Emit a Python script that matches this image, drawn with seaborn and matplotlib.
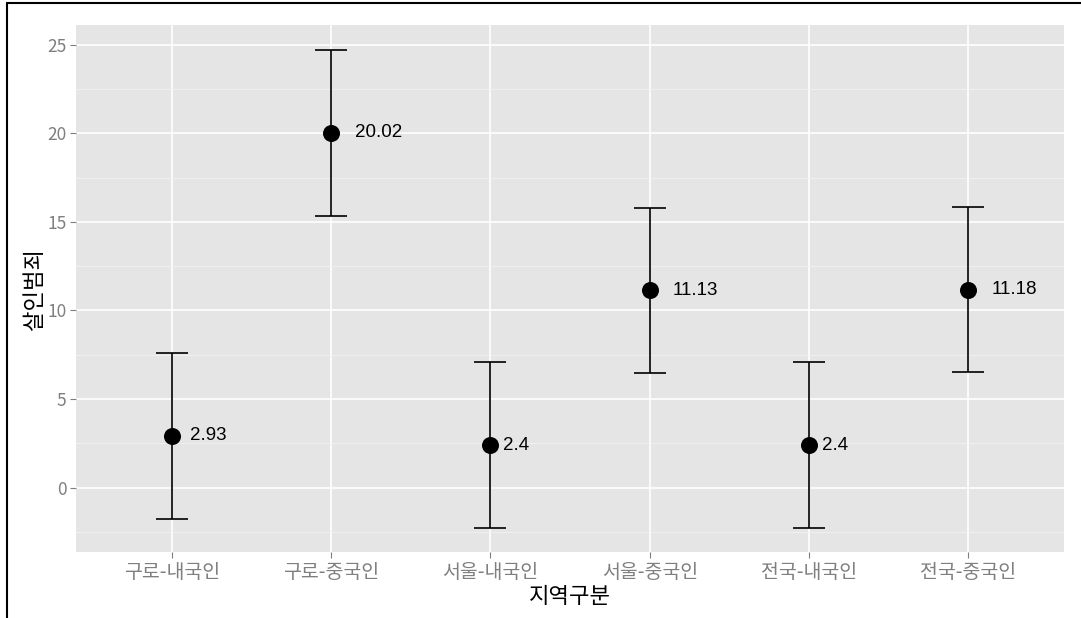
import numpy as np
import pandas as pd
import seaborn as sns
import matplotlib.pyplot as plt
from matplotlib.lines import Line2D

# ── data ─────────────────────────────────────────────
regions = ['구로-내국인', '구로-중국인', '서울-내국인', '서울-중국인', '전국-내국인', '전국-중국인']
means = [2.93, 20.02, 2.4, 11.13, 2.4, 11.18]
half_width = [4.67, 4.67, 4.67, 4.67, 4.67, 4.67]
labels = ['2.93', '20.02', '2.4', '11.13', '2.4', '11.18']

df = pd.DataFrame({'region': regions, 'mean': means, 'err': half_width, 'label': labels})

# ── style (ggplot-like) ─────────────────────────────
sns.set_theme(style='darkgrid', rc={
    'axes.facecolor': '#E5E5E5',
    'grid.color': 'white',
    'axes.edgecolor': '#E5E5E5',
})
plt.rcParams['font.family'] = ['Noto Sans CJK KR', 'DejaVu Sans']

fig = plt.figure(figsize=(10.81, 6.18), dpi=100)
ax = fig.add_axes([0.0703, 0.1068, 0.9843 - 0.0703, 0.9595 - 0.1068])

ax.errorbar(np.arange(len(df)), df['mean'], yerr=df['err'], fmt='none',
            ecolor='black', elinewidth=1.2, capsize=11.5, capthick=1.2, zorder=3)
sns.scatterplot(data=df, x='region', y='mean', color='black', s=150,
                edgecolor='black', linewidth=0, zorder=4, ax=ax)

# labels shifted right by half their width (hjust = -0.5)
lab_font = dict(fontsize=13.5, color='black', va='center', ha='left',
                family=['Liberation Sans', 'DejaVu Sans'])
fig.canvas.draw()
renderer = fig.canvas.get_renderer()
for i, row in df.iterrows():
    t = ax.text(i, row['mean'], row['label'], **lab_font)
    w = t.get_window_extent(renderer).width
    t.remove()
    ax.annotate(row['label'], (i, row['mean']), xytext=(w * 0.5 * 72 / fig.dpi, 0),
                textcoords='offset points', zorder=5, **lab_font)

ax.set_xlim(-0.6, len(df) - 0.4)
ax.set_ylim(-3.62, 26.1)
ax.set_yticks([0, 5, 10, 15, 20, 25])
ax.set_yticks([-2.5, 2.5, 7.5, 12.5, 17.5, 22.5], minor=True)
ax.grid(which='major', color='white', linewidth=1.2)
ax.grid(which='minor', axis='y', color='#F2F2F2', linewidth=0.6)
ax.set_axisbelow(True)
for s in ax.spines.values():
    s.set_visible(False)

ax.tick_params(axis='both', which='major', length=4, width=0.8, color='#7F7F7F',
               labelcolor='#7F7F7F', pad=3, bottom=True, left=True)
ax.tick_params(axis='y', labelsize=12.5)
ax.tick_params(axis='x', labelsize=14)
ax.tick_params(which='minor', length=0)

ax.set_xlabel('지역구분', fontsize=16, color='black', labelpad=2)
ax.set_ylabel('살인범죄', fontsize=16, color='black', labelpad=1)

# outer frame lines (left and top)
fig.add_artist(Line2D([7 / 1081, 7 / 1081], [0, 1 - 3 / 618], color='black', lw=1.5))
fig.add_artist(Line2D([7 / 1081, 1], [1 - 3 / 618, 1 - 3 / 618], color='black', lw=1.5))

fig.savefig('out.png', dpi=100)
